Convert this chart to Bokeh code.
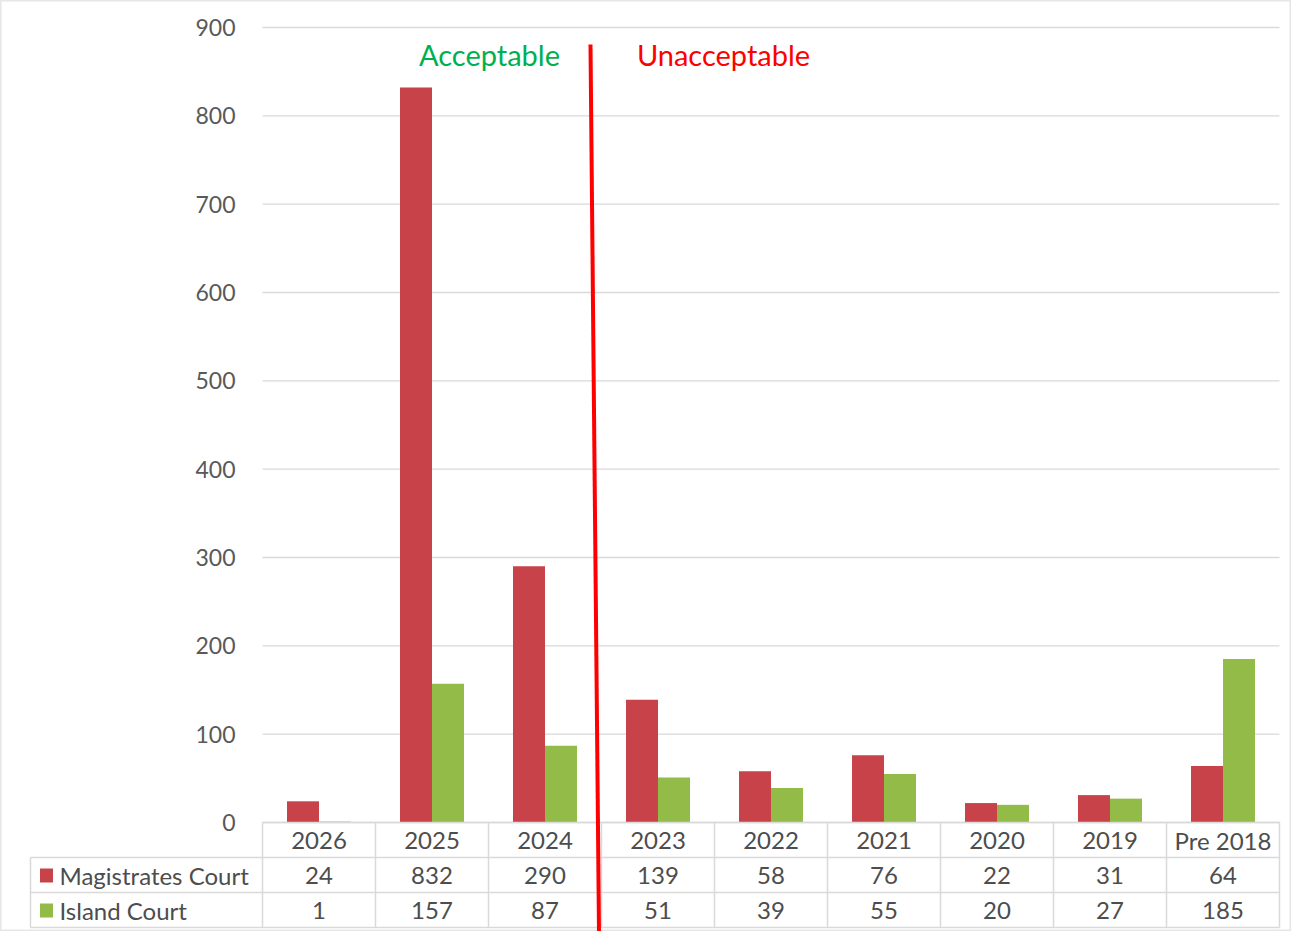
from bokeh.plotting import figure
from bokeh.models import Range1d
from bokeh.core.properties import value
from bokeh.embed import file_html
from bokeh.resources import INLINE

categories = ["2026", "2025", "2024", "2023", "2022", "2021", "2020", "2019", "Pre 2018"]
magistrates = [24, 832, 290, 139, 58, 76, 22, 31, 64]
island = [1, 157, 87, 51, 39, 55, 20, 27, 185]
series_names = ["Magistrates Court", "Island Court"]
y_ticks = [0, 100, 200, 300, 400, 500, 600, 700, 800, 900]

RED = "#c8424a"
GREEN = "#92bb48"
GRID = "#d9d9d9"
TXT = "#4d4d4d"
FONT = value("Lato")

W, H = 1291, 931
PX_PER_CAT = 113.0
X0 = 270.0
PX_PER_VAL = 795.0 / 900.0
Y0 = 830.0

def xu(px):
    return (px - X0) / PX_PER_CAT

def yv(py):
    return (Y0 - py) / PX_PER_VAL

p = figure(width=W, height=H, output_backend="svg", toolbar_location=None,
           x_range=Range1d(xu(8), xu(8 + W)), y_range=Range1d(yv(8 + H), yv(8)),
           min_border=0, min_border_left=0, min_border_right=0,
           min_border_top=0, min_border_bottom=0)
p.xaxis.visible = False
p.yaxis.visible = False
p.xgrid.visible = False
p.ygrid.visible = False
p.outline_line_color = "#e6e6e6"
p.outline_line_width = 2
p.background_fill_color = "white"
p.border_fill_color = "white"

n = len(categories)
xs_end = n

for t in y_ticks:
    p.segment(x0=[0], y0=[t], x1=[xs_end], y1=[t], line_color=GRID, line_width=1.3)

p.text(x=[xu(243)] * len(y_ticks), y=y_ticks, text=[str(t) for t in y_ticks],
       text_align="right", text_baseline="middle", text_font=FONT,
       text_font_size="23px", text_color="#595959")

bw = 32.0 / PX_PER_CAT
xr = [i + 0.5 - bw / 2 for i in range(n)]
xg = [i + 0.5 + bw / 2 for i in range(n)]
p.vbar(x=xr, top=magistrates, bottom=0, width=bw, fill_color=RED, line_color=None)
p.vbar(x=xg, top=island, bottom=0, width=bw, fill_color=GREEN, line_color=None)

# table rows (page px): header 830-865, row1 865-900, row2 900-935
r1, r2, r3 = 865, 900, 935
y_rows = [yv(r1), yv(r2), yv(r3)]
p.segment(x0=[xu(38)] * 3, y0=y_rows, x1=[xs_end] * 3, y1=y_rows, line_color=GRID, line_width=1.5)
p.segment(x0=[0], y0=[0], x1=[xs_end], y1=[0], line_color=GRID, line_width=1.5)
vx = list(range(n + 1))
p.segment(x0=vx, y0=[0] * len(vx), x1=vx, y1=[yv(r3)] * len(vx), line_color=GRID, line_width=1.5)
p.segment(x0=[xu(38)], y0=[yv(r1)], x1=[xu(38)], y1=[yv(r3)], line_color=GRID, line_width=1.5)

t0, t1, t2 = 848, 883, 918
cx = [i + 0.5 for i in range(n)]
p.text(x=cx, y=[yv(t0)] * n, text=categories, text_align="center", text_baseline="middle",
       text_font=FONT, text_font_size="24px", text_color=TXT)
p.text(x=cx, y=[yv(t1)] * n, text=[str(v) for v in magistrates], text_align="center",
       text_baseline="middle", text_font=FONT, text_font_size="24px", text_color=TXT)
p.text(x=cx, y=[yv(t2)] * n, text=[str(v) for v in island], text_align="center",
       text_baseline="middle", text_font=FONT, text_font_size="24px", text_color=TXT)

p.rect(x=[xu(54), xu(54)], y=[yv(t1), yv(t2)], width=13 / PX_PER_CAT, height=14 / PX_PER_VAL,
       fill_color=[RED, GREEN], line_color=None)
p.text(x=[xu(67), xu(67)], y=[yv(t1), yv(t2)], text=series_names, text_align="left",
       text_baseline="middle", text_font=FONT, text_font_size="24px", text_color=TXT)

p.segment(x0=[xu(598)], y0=[yv(52)], x1=[xu(606.5)], y1=[yv(940)], line_color="#ff0000", line_width=4)

p.text(x=[xu(497)], y=[yv(62)], text=["Acceptable"], text_align="center", text_baseline="middle",
       text_font=FONT, text_font_size="29px", text_color="#00b050")
p.text(x=[xu(731)], y=[yv(62)], text=["Unacceptable"], text_align="center", text_baseline="middle",
       text_font=FONT, text_font_size="29px", text_color="#ff0000")

open("out.html", "w").write(file_html(p, INLINE))
